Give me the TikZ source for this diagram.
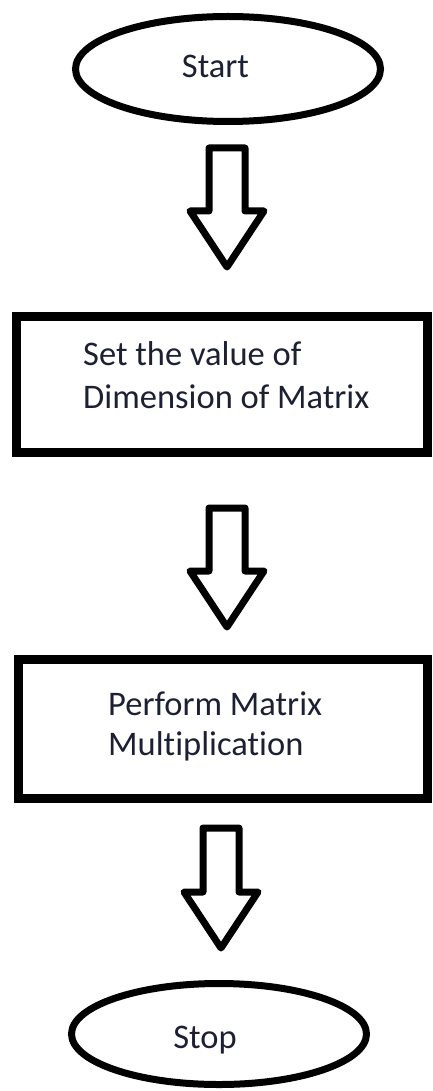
\documentclass[tikz,border=0pt]{standalone}
\usepackage{fontspec}
\setmainfont{Carlito}[Ligatures=NoCommon]
\usetikzlibrary{calc,shapes.geometric}

\definecolor{inkblue}{RGB}{28,32,50}

\tikzset{
  terminal/.style={draw=black, line width=7pt, ellipse, inner sep=0pt},
  procbox/.style={draw=black, line width=9pt, rectangle, inner sep=0pt},
  label/.style={text=inkblue, font=\fontsize{34.5}{43}\selectfont, inner sep=0pt},
  blockarrow/.style={draw=black, line width=7pt, line join=round, fill=white},
}

% hollow block arrow from a top coordinate down to a tip coordinate
\newcommand\blockarr[2]{%
  \draw[blockarrow] let \p1=(#1), \p2=(#2) in
    (\x1-18pt,\y1) -- (\x1+18pt,\y1) -- (\x1+18pt,\y2+56pt) --
    (\x1+37pt,\y2+56pt) -- (\x2,\y2) -- (\x1-37pt,\y2+56pt) --
    (\x1-18pt,\y2+56pt) -- cycle;}

\begin{document}
\begin{tikzpicture}[x=1pt,y=-1pt]
  \useasboundingbox (0,0) rectangle (432,1091);

  % start terminal
  \node[terminal, minimum width=305pt, minimum height=105pt] (start) at (228,69) {};
  \node[label, anchor=base] (starttxt) at (215.5,78) {Start};

  % first step
  \draw[procbox] (16.5,316.5) rectangle (427.5,452.5);
  \node[procbox, draw=none, minimum width=411pt, minimum height=136pt] (setdim) at (222,384.5) {};
  \node[label, anchor=base west] (setdim1) at (83,365) {Set the value of};
  \node[label, anchor=base west] (setdim2) at (83,408) {Dimension of Matrix};

  % second step
  \draw[procbox] (18.5,659.5) rectangle (427.5,798.5);
  \node[procbox, draw=none, minimum width=409pt, minimum height=139pt] (mult) at (223,729) {};
  \node[label, anchor=base west] (mult1) at (108,715) {Perform Matrix};
  \node[label, anchor=base west] (mult2) at (108,755) {Multiplication};

  % stop terminal
  \node[terminal, minimum width=295pt, minimum height=101pt] (stop) at (219,1034) {};
  \node[label, anchor=base] (stoptxt) at (205,1048) {Stop};

  % connectors
  \coordinate (a1top) at (227,148);
  \coordinate (a1tip) at (227,267);
  \coordinate (a2top) at (227,508);
  \coordinate (a2tip) at (227,627);
  \coordinate (a3top) at (221,828);
  \coordinate (a3tip) at (221,948);
  \blockarr{a1top}{a1tip}
  \blockarr{a2top}{a2tip}
  \blockarr{a3top}{a3tip}
\end{tikzpicture}
\end{document}
